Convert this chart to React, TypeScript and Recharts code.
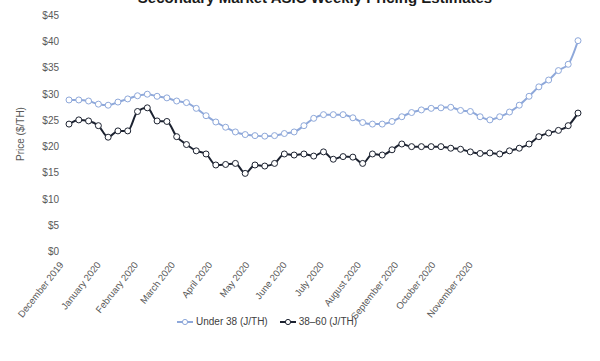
import * as React from "react";
import { LineChart, Line, XAxis, YAxis } from "recharts";

// weekly estimates, Dec 2019 -> end of Nov 2020
const under38 = [
  28.8, 28.8, 28.6, 28.0, 27.8, 28.4, 29.0, 29.6, 29.9, 29.5, 29.2, 28.6, 28.3,
  27.2, 25.8, 24.6, 23.6, 22.7, 22.2, 22.0, 21.9, 22.0, 22.4, 22.7, 23.9, 25.3,
  26.0, 26.0, 26.0, 25.4, 24.5, 24.2, 24.2, 24.7, 25.6, 26.4, 26.9, 27.2, 27.3,
  27.4, 26.8, 26.6, 25.6, 25.0, 25.6, 26.5, 27.8, 29.5, 31.3, 32.6, 34.4, 35.6,
  40.1,
];
const from38to60 = [
  24.2, 25.0, 24.8, 23.9, 21.7, 22.9, 22.9, 26.6, 27.3, 24.8, 24.7, 21.8, 20.3,
  19.1, 18.5, 16.4, 16.5, 16.7, 14.8, 16.4, 16.2, 16.7, 18.5, 18.3, 18.5, 18.1,
  18.9, 17.5, 18.0, 17.9, 16.7, 18.5, 18.3, 19.3, 20.4, 19.9, 19.9, 19.9, 19.9,
  19.6, 19.4, 18.9, 18.6, 18.7, 18.5, 19.1, 19.6, 20.4, 21.8, 22.5, 23.0, 23.9,
  26.3,
];
const monthLabels = [
  "December 2019",
  "January 2020",
  "February 2020",
  "March 2020",
  "April 2020",
  "May 2020",
  "June 2020",
  "July 2020",
  "August 2020",
  "September 2020",
  "October 2020",
  "November 2020",
];
const monthTicks = [0, 3.8, 7.6, 11.4, 15.2, 19, 22.8, 26.6, 30.4, 34.2, 38, 41.8];
const priceTicks = [0, 5, 10, 15, 20, 25, 30, 35, 40, 45];

const data = under38.map((v, i) => ({ week: i, under: v, mid: from38to60[i] }));

const BLUE = "#8ea8da";
const DARK = "#1c2230";
const FONT = "'Liberation Sans', Arial, sans-serif";

const XTick = (props: any) => {
  const { x, y, payload } = props;
  const idx = monthTicks.indexOf(payload?.value);
  return (
    <g transform={`translate(${x - 5},${y + 6})`}>
      <text
        x={0}
        y={0}
        textAnchor="end"
        fill="#595959"
        fontSize={9.5}
        fontFamily={FONT}
        transform="rotate(-52)"
      >
        {monthLabels[idx]}
      </text>
    </g>
  );
};

const YTick = (props: any) => {
  const { y, payload } = props;
  return (
    <text
      x={59}
      y={y}
      dy={4}
      textAnchor="end"
      fill="#595959"
      fontSize={10}
      fontFamily={FONT}
    >
      ${payload?.value}
    </text>
  );
};

const LegendItem = ({ color, label }: { color: string; label: string }) => (
  <span style={{ display: "inline-flex", alignItems: "center", marginRight: 12 }}>
    <svg width={16} height={8} style={{ marginRight: 3 }}>
      <line x1={0} y1={4} x2={16} y2={4} stroke={color} strokeWidth={2} />
      <circle cx={8} cy={4} r={2.6} fill="#fff" stroke={color} strokeWidth={1} />
    </svg>
    {label}
  </span>
);

export default function App() {
  return (
    <div
      style={{
        position: "absolute",
        left: 0,
        top: 0,
        width: 600,
        height: 361,
        background: "#fff",
        fontFamily: FONT,
      }}
    >
      <LineChart
        width={600}
        height={361}
        data={data}
        margin={{ top: 15, right: 22, bottom: 40, left: 0 }}
      >
        <XAxis
          type="number"
          dataKey="week"
          domain={[0, 52]}
          ticks={monthTicks}
          interval={0}
          tick={<XTick />}
          tickLine={false}
          axisLine={false}
          height={70}
        />
        <YAxis
          domain={[0, 45]}
          ticks={priceTicks}
          tick={<YTick />}
          tickLine={false}
          axisLine={false}
          width={69}
        />
        <Line
          type="monotone"
          dataKey="under"
          stroke={BLUE}
          strokeWidth={2}
          dot={{ r: 3, fill: "#fff", stroke: BLUE, strokeWidth: 1 }}
          isAnimationActive={false}
        />
        <Line
          type="monotone"
          dataKey="mid"
          stroke={DARK}
          strokeWidth={2}
          dot={{ r: 3, fill: "#fff", stroke: DARK, strokeWidth: 1 }}
          isAnimationActive={false}
        />
      </LineChart>

      <svg
        width={600}
        height={361}
        style={{ position: "absolute", left: 0, top: 0, pointerEvents: "none" }}
      >
        <text
          x={315}
          y={3}
          textAnchor="middle"
          fontSize={15}
          fontWeight="bold"
          fill="#1a1a1a"
          fontFamily={FONT}
        >
          Secondary Market ASIC Weekly Pricing Estimates
        </text>
        <text
          x={0}
          y={0}
          transform="translate(24,134) rotate(-90)"
          textAnchor="middle"
          fontSize={10}
          fill="#595959"
          fontFamily={FONT}
        >
          Price ($/TH)
        </text>
      </svg>

      <div
        style={{
          position: "absolute",
          left: 177,
          top: 316,
          fontSize: 10,
          color: "#404040",
          whiteSpace: "nowrap",
          display: "flex",
        }}
      >
        <LegendItem color={BLUE} label="Under 38 (J/TH)" />
        <LegendItem color={DARK} label="38–60 (J/TH)" />
      </div>
    </div>
  );
}
